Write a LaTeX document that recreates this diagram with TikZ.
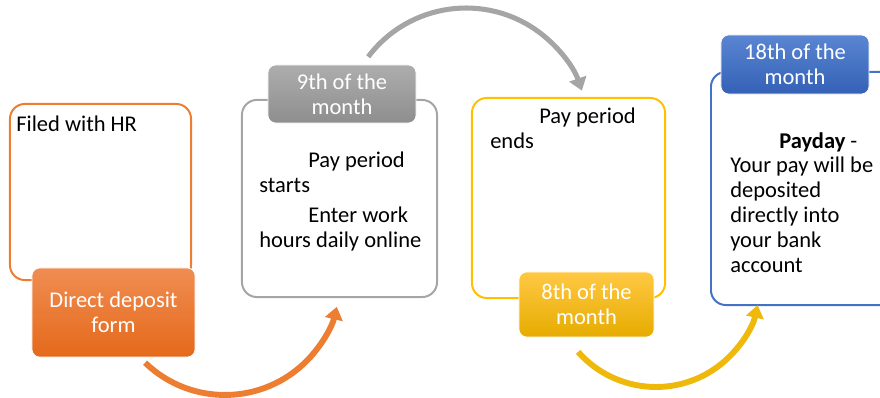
\documentclass[tikz,border=0pt]{standalone}
\usepackage{xcolor}
\usepackage{fontspec}
\setmainfont{Carlito}
\usetikzlibrary{arrows.meta}

\definecolor{naranja}{HTML}{ED7D31}
\definecolor{naranjaArriba}{HTML}{F08D52}
\definecolor{naranjaAbajo}{HTML}{E4691A}
\definecolor{gris}{HTML}{A5A5A5}
\definecolor{grisArriba}{HTML}{ADADAD}
\definecolor{grisAbajo}{HTML}{8E8E8E}
\definecolor{amarillo}{HTML}{FFC000}
\definecolor{amarilloArriba}{HTML}{FFC843}
\definecolor{amarilloAbajo}{HTML}{E6AC00}
\definecolor{amarilloFlecha}{HTML}{EFB90C}
\definecolor{azul}{HTML}{4472C4}
\definecolor{azulArriba}{HTML}{5A85D2}
\definecolor{azulAbajo}{HTML}{3461B6}

\tikzset{
  caja/.style={draw=#1, line width=1.4pt, fill=white, rounded corners=10.5pt, inner sep=0pt},
  etiqueta/.style={draw=white, line width=0.5pt, rounded corners=5.5pt, inner sep=0pt,
    text=white, align=center, font=\fontsize{16}{17.7}\selectfont},
  texto/.style={inner sep=0pt, align=left, font=\fontsize{16}{17.7}\selectfont},
  flecha/.style={draw=#1, line width=4.2pt, -{Triangle[width=12.5pt,length=9pt]}}
}

\begin{document}
\begin{tikzpicture}[x=0.025cm, y=0.025cm]
        \useasboundingbox (0,0) rectangle (880,-398);
        \clip (0,0) rectangle (880,-398);

        % Paso 1: Dibuja las cajas con borde de color
        \node[caja=naranja, minimum width=4.525cm, minimum height=4.4cm] (cajaHR) at (100.5,-192) {};
        \node[caja=gris, minimum width=4.875cm, minimum height=4.925cm] (cajaInicio) at (339.5,-198.5) {};
        \node[caja=amarillo, minimum width=4.825cm, minimum height=5cm] (cajaFin) at (568.5,-198) {};
        \node[caja=azul, minimum width=4.75cm, minimum height=5.825cm] (cajaPago) at (806,-188.5) {};

        % Paso 2: Escribe el texto de cada caja
        \node[texto, anchor=base west] (txtHR) at (16,-132) {Filed with HR};
        \node[texto, anchor=north west] (txtInicio) at (259,-152)
          {\hspace*{1.225cm}Pay period\\starts\\[3.5pt]\hspace*{1.225cm}Enter work\\hours daily online};
        \node[texto, anchor=north west] (txtFin) at (490,-108)
          {\hspace*{1.225cm}Pay period\\ends};
        \node[texto, anchor=north west] (txtPago) at (730,-132)
          {\hspace*{1.225cm}\textbf{Payday} -\\Your pay will be\\deposited\\directly into\\your bank\\account};

        % Paso 3: Dibuja las etiquetas rellenas
        \node[etiqueta, top color=naranjaArriba, bottom color=naranjaAbajo,
          minimum width=4.075cm, minimum height=2.225cm] (etqForm) at (113.5,-312.5) {Direct deposit\\form};
        \node[etiqueta, top color=grisArriba, bottom color=grisAbajo,
          minimum width=3.7cm, minimum height=1.45cm] (etqNueve) at (342,-94) {9th of the\\month};
        \node[etiqueta, top color=amarilloArriba, bottom color=amarilloAbajo,
          minimum width=3.375cm, minimum height=1.625cm] (etqOcho) at (586.5,-304.5) {8th of the\\month};
        \node[etiqueta, top color=azulArriba, bottom color=azulAbajo,
          minimum width=3.7cm, minimum height=1.475cm] (etqDieciocho) at (795,-64.5) {18th of the\\month};

        % Paso 4: Dibuja las flechas curvas entre las cajas
        \coordinate (iniUno) at (145.1,-362.7);
        \coordinate (iniDos) at (368.2,-56.8);
        \coordinate (iniTres) at (578.1,-351.9);
        \draw[flecha=naranja] (iniUno) arc[start angle=226, end angle=346.5, radius=115];
        \draw[flecha=gris, line width=3.6pt] (iniDos) arc[start angle=143, end angle=19, radius=122.5];
        \draw[flecha=amarilloFlecha] (iniTres) arc[start angle=221.5, end angle=347.7, radius=104];
\end{tikzpicture}
\end{document}
